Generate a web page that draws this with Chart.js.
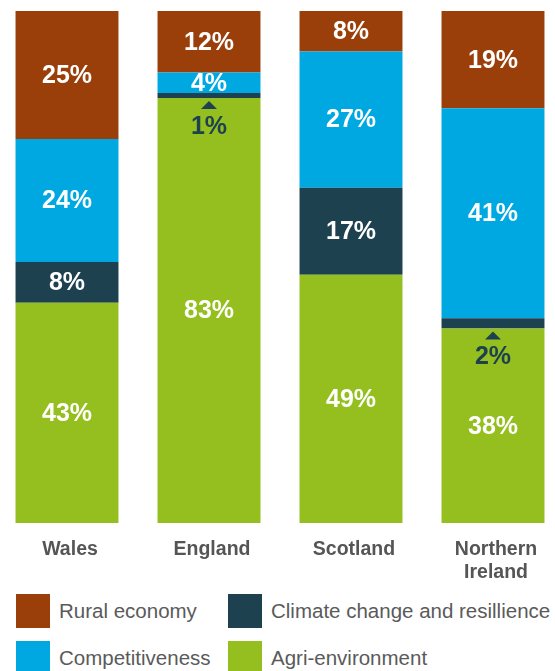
<!DOCTYPE html>
<html>
<head>
<meta charset="utf-8">
<script src="https://cdn.jsdelivr.net/npm/chart.js@4"></script>
<style>
  body { margin: 0; background: #fff; font-family: "Liberation Sans", Arial, sans-serif; }
  #wrap { position: relative; width: 555px; height: 671px; overflow: hidden; }
  #chartBox { position: absolute; left: -4px; top: 0; width: 568px; height: 590px; }
  .key { position: absolute; display: flex; align-items: center; color: #5a5a5a; font-size: 20.5px; white-space: nowrap; }
  .key span.sw { display: inline-block; width: 34px; height: 34px; margin-right: 9px; }
</style>
</head>
<body>
<div id="wrap">
  <div id="chartBox"><canvas id="chart" width="568" height="590"></canvas></div>
  <div id="legend"></div>
</div>
<script>
// regions and share of funding per measure (%)
const regions = ['Wales', 'England', 'Scotland', ['Northern', 'Ireland']];
const agriEnvironment = [43, 83, 48.5, 38];
const climateChange = [8, 1, 17, 2];
const competitiveness = [24, 4, 26.6, 41];
const ruralEconomy = [25, 12, 7.9, 19];

const colours = {
    rural: '#9a3f0a',
    comp: '#00a8e1',
    climate: '#1e4150',
    agri: '#95bf1f'
};

const datasets = [
    { label: 'Agri-environment', data: agriEnvironment, backgroundColor: colours.agri },
    { label: 'Climate change and resillience', data: climateChange, backgroundColor: colours.climate },
    { label: 'Competitiveness', data: competitiveness, backgroundColor: colours.comp },
    { label: 'Rural economy', data: ruralEconomy, backgroundColor: colours.rural }
];

// percentage labels drawn inside each segment, small ones get an arrow underneath
const segmentLabels = {
    id: 'segmentLabels',
    afterDatasetsDraw(chart) {
        const ctx = chart.ctx;
        ctx.save();
        ctx.textAlign = 'center';
        ctx.textBaseline = 'middle';
        ctx.font = 'bold 25px "Liberation Sans", Arial, sans-serif';
        chart.data.datasets.forEach((ds, di) => {
            const meta = chart.getDatasetMeta(di);
            meta.data.forEach((bar, i) => {
                const top = Math.max(bar.y, chart.chartArea.top);
                const bottom = bar.base;
                const h = bottom - top;
                const txt = Math.round(ds.data[i]) + '%';
                if (h < 14) {
                    ctx.fillStyle = colours.climate;
                    ctx.beginPath();
                    ctx.moveTo(bar.x, bottom + 3);
                    ctx.lineTo(bar.x + 8, bottom + 11);
                    ctx.lineTo(bar.x - 8, bottom + 11);
                    ctx.closePath();
                    ctx.fill();
                    ctx.fillText(txt, bar.x, bottom + 29);
                } else {
                    ctx.fillStyle = '#fff';
                    ctx.fillText(txt, bar.x, (top + bottom) / 2 + 1);
                }
            });
        });
        ctx.restore();
    }
};

new Chart(document.getElementById('chart'), {
    type: 'bar',
    data: { labels: regions, datasets: datasets },
    options: {
        responsive: false,
        animation: false,
        layout: { padding: { top: 11, left: 0, right: 0, bottom: 0 } },
        plugins: { legend: { display: false }, tooltip: { enabled: false } },
        datasets: { bar: { barPercentage: 1, categoryPercentage: 0.725, borderWidth: 0 } },
        scales: {
            x: {
                stacked: true,
                grid: { display: false, drawTicks: false },
                border: { display: false },
                ticks: {
                    color: '#555',
                    padding: 15,
                    labelOffset: 3,
                    font: { family: '"Liberation Sans", Arial, sans-serif', size: 19.5, weight: 'bold', lineHeight: 1.18 }
                },
                afterFit(scale) { scale.height = 67; }
            },
            y: {
                stacked: true,
                display: false,
                min: 0,
                max: 100
            }
        }
    },
    plugins: [segmentLabels]
});

// legend in two columns
const legendItems = [
    { text: 'Rural economy', colour: colours.rural, left: 16, top: 594 },
    { text: 'Climate change and resillience', colour: colours.climate, left: 228, top: 594 },
    { text: 'Competitiveness', colour: colours.comp, left: 16, top: 641 },
    { text: 'Agri-environment', colour: colours.agri, left: 228, top: 641 }
];
const legend = document.getElementById('legend');
legendItems.forEach(item => {
    const d = document.createElement('div');
    d.className = 'key';
    d.style.left = item.left + 'px';
    d.style.top = item.top + 'px';
    d.innerHTML = `<span class="sw" style="background:${item.colour}"></span>${item.text}`;
    legend.appendChild(d);
});
</script>
</body>
</html>
